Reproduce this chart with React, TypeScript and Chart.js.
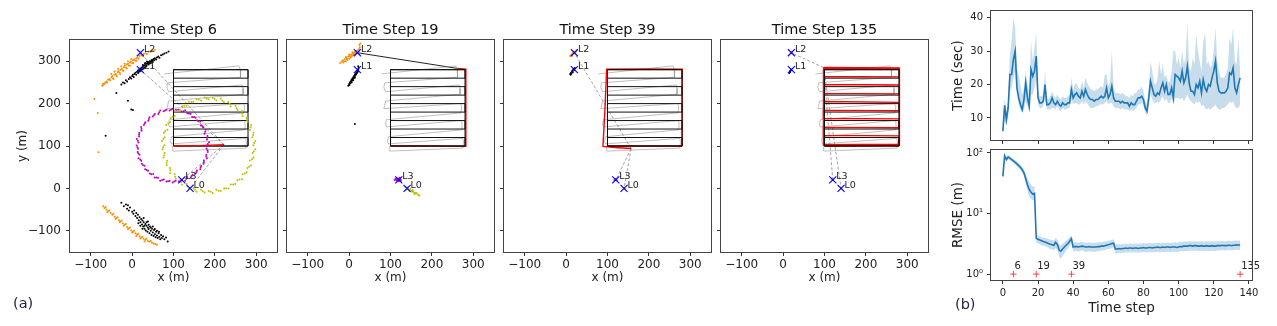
import React, { useEffect, useRef } from "react";
import { Chart, registerables } from "chart.js";

Chart.register(...registerables);

const FONT = "'DejaVu Sans', 'Liberation Sans', sans-serif";

// ---------------- (a) map panels ----------------
const PANEL_TITLES = ["Time Step 6", "Time Step 19", "Time Step 39", "Time Step 135"];
const MAP_TICKS = [-100, 0, 100, 200, 300];
const LANDMARK_NAMES = ["L0", "L1", "L2", "L3"];
const LANDMARK_X = [140, 20, 20, 120];
const LANDMARK_Y = [0, 280, 320, 20];

const TRUE_PATH = [[100,100],[280,100],[280,280],[100,280],[100,100],[280,100],[280,120],[100,120],[100,140],[280,140],[280,160],[100,160],[100,180],[280,180],[280,200],[100,200],[100,220],[280,220],[280,240],[100,240],[100,260],[280,260],[280,280],[100,280]];

const GRAY_PATH = [[78,270],[258,289],[261,281],[262,262],[86,249],[84,238],[88,228],[266,244],[268,236],[268,222],[88,206],[86,196],[84,188],[270,200],[272,190],[270,178],[90,162],[88,152],[90,145],[272,160],[273,148],[272,138],[95,122],[93,112],[95,105],[275,118],[276,108],[275,95],[100,88],[98,88],[98,100]];

const RED_6 = [[100,100],[160,101],[222,103]];
const RED_19 = [[100,100],[190,100],[280,99],[282,190],[282,281],[262,283]];
const RED_39 = [[100,100],[190,100],[281,100],[281,190],[280,281],[190,282],[98,281],[94,190],[89,99],[125,96],[157,94]];
const RED_135 = [[100,100],[281,101],[281,281],[98,283],[97,100],[98,103],[279,104],[280,124],[98,125],[97,144],[279,143],[280,164],[97,165],[97,184],[280,183],[280,203],[98,205],[98,224],[280,223],[281,244],[99,245],[99,264],[281,263],[281,284],[98,285]];

const LINKS_6 = [1, 2, 3, 0];
const LINKS_19 = [2];
const LINKS_39 = [2, 3, 0];
const LINKS_135 = [2, 3, 0];

const ORANGE_6 = [[-72,243],[-70,247],[-67,246],[-65,250],[-62,252],[-60,249],[-58,256],[-55,258],[-53,255],[-50,262],[-48,265],[-46,260],[-43,268],[-40,270],[-38,267],[-35,274],[-33,277],[-30,273],[-28,280],[-25,283],[-23,279],[-20,286],[-18,289],[-15,285],[-13,292],[-10,294],[-8,290],[-5,297],[-3,299],[0,296],[2,302],[5,304],[8,301],[10,307],[13,309],[16,306],[18,312],[22,314],[26,312],[28,317],[32,319],[36,317],[40,322],[45,323],[50,325],[55,327],[-50,270],[-42,276],[-34,282],[-26,288],[-18,294],[-10,300],[-2,305],[-45,258],[-37,264],[-29,270],[-21,277],[-13,283],[-5,289],[3,296],[11,301],[-91,211],[-83,178],[-81,85],[-71,242],
[-70,-42],[-67,-46],[-64,-44],[-62,-50],[-58,-54],[-55,-52],[-52,-58],[-48,-62],[-45,-60],[-42,-67],[-38,-70],[-35,-68],[-32,-75],[-28,-78],[-25,-76],[-22,-83],[-18,-86],[-15,-84],[-12,-91],[-8,-94],[-5,-92],[-2,-99],[2,-102],[5,-100],[8,-106],[12,-109],[15,-107],[18,-113],[22,-116],[25,-114],[28,-119],[32,-121],[35,-119],[38,-124],[42,-126],[45,-124],[48,-128],[52,-130],[56,-131],[60,-133],[-40,-72],[-20,-88],[0,-104],[20,-118],[-60,-56],[-30,-80],[-10,-96],[10,-112],[30,-125]];

const BLACK_6 = [[-26,245],[-22,250],[-18,248],[-15,255],[-12,252],[-8,258],[-5,262],[-2,259],[0,265],[2,268],[4,263],[6,270],[8,273],[10,268],[12,275],[14,278],[15,272],[17,280],[19,282],[20,277],[22,284],[24,286],[25,281],[27,288],[29,290],[30,285],[32,292],[34,294],[35,289],[37,296],[39,297],[40,292],[42,299],[44,300],[45,295],[47,302],[49,303],[50,298],[52,305],[55,307],[58,304],[60,309],[63,311],[66,308],[70,314],[74,316],[78,318],[83,320],[88,323],[28,283],[33,287],[38,294],[43,296],[18,276],[23,280],[48,300],[53,302],[26,291],[31,295],[36,299],[-38,225],[-10,207],[-2,186],[2,185],[-64,124],
[-26,-34],[-20,-42],[-15,-38],[-12,-48],[-8,-52],[-5,-45],[0,-55],[3,-60],[5,-52],[8,-65],[10,-58],[12,-70],[14,-62],[16,-75],[18,-68],[20,-80],[22,-72],[24,-85],[25,-76],[27,-90],[28,-80],[30,-95],[32,-84],[33,-99],[35,-88],[37,-102],[38,-92],[40,-96],[42,-106],[43,-90],[45,-100],[47,-110],[48,-95],[50,-104],[52,-112],[53,-98],[55,-108],[57,-115],[58,-102],[60,-111],[62,-117],[64,-106],[66,-114],[68,-120],[70,-110],[72,-117],[75,-113],[78,-120],[82,-116],[86,-125],[20,-88],[25,-95],[30,-88],[35,-80],[40,-86],[45,-92],[50,-90],[55,-96],[60,-100],[15,-82],[65,-102],[28,-70],[38,-78],[-10,-40]];

const MAGENTA_6 = [[181,101],[185.7,108.7],[180.7,115.6],[182,123.5],[175.1,129],[177.7,138.2],[171.6,143.5],[166,148.6],[165.4,157.6],[157.4,160.4],[153.3,166.9],[145.1,168.2],[141.5,176.3],[133.5,177.1],[128.1,183.7],[119.5,181.2],[112.9,185.7],[105.3,184.7],[98,188],[90.8,183.7],[83.1,185.7],[76.2,182.1],[67.9,183.7],[63.3,175.3],[55,175.5],[49.8,169.8],[42.1,167.6],[39.3,159.7],[32.1,156.3],[28.4,149.8],[21.8,145],[22.8,136.1],[17.2,130.4],[16.9,122.7],[11.3,116.3],[15.3,108.2],[11,101],[14.3,93.7],[13.3,86.1],[17.8,79.5],[15.3,70.9],[21.9,65.5],[23.5,58],[30,53.4],[31.4,45.1],[38.6,41.6],[42.7,35.1],[51,33.8],[54.5,25.7],[62.5,24.9],[67.9,18.3],[76.5,20.8],[83.1,16.3],[90.7,17.3],[98,14],[105.2,18.3],[112.9,16.3],[119.7,19.9],[128.1,18.3],[132.7,26.7],[141.5,25.7],[146.2,32.2],[153.3,35.1],[156.7,42.3],[164.6,45.1],[166.8,52.8],[172.5,58],[173.2,65.9],[180.7,70.9],[179.1,79.3],[182.7,86.1],[179.7,93.9],
[182.9,104.7],[181,119.4],[176.5,133.6],[169.7,146.6],[160.6,158.5],[149.8,168.4],[137.3,176.4],[123.6,182.1],[109.1,185.2],[94.3,185.9],[79.6,184],[65.4,179.5],[52.4,172.7],[40.5,163.6],[30.6,152.8],[22.6,140.3],[16.9,126.6],[13.8,112.1],[13.1,97.3],[15,82.6],[19.5,68.4],[26.3,55.4],[35.4,43.5],[46.2,33.6],[58.7,25.6],[72.4,19.9],[86.9,16.8],[101.7,16.1],[116.4,18],[130.6,22.5],[143.6,29.3],[155.5,38.4],[165.4,49.2],[173.4,61.7],[179.1,75.4],[182.2,89.9]];

const YELLOW_6 = [[293,102],[297.5,111.8],[290.4,120.6],[293.2,131],[284.6,138.3],[287.4,149.8],[279.4,156.5],[276.7,166.3],[267,170.8],[265.6,182.6],[254.4,184.7],[249.9,194.5],[238,193.8],[232.4,203.5],[221.9,203.5],[214.5,212.1],[203.6,207.4],[194.7,213.6],[185,210],[175.2,214.5],[166.4,207.4],[156,210.2],[147.7,204.5],[137.2,204.4],[131.5,194.7],[120.7,193.7],[115.6,184.7],[104.4,182.6],[103,170.8],[93.3,166.3],[91.5,156],[82.6,149.8],[85.4,138.3],[76.8,131],[78.6,120.8],[72.4,111.8],[78,102],[73.4,92.3],[78.6,83.2],[75.8,72.8],[84.4,65.4],[83.5,54.7],[91.5,48],[91.6,36.6],[103,33.2],[105.8,22.8],[115.6,19.3],[120.2,9.4],[132,10.2],[137.7,0.5],[148.1,0.5],[155.5,-8.1],[166.4,-3.4],[175.2,-9.6],[185,-6],[194.8,-10.6],[203.6,-3.4],[214,-6.2],[222.3,-0.4],[232.8,-0.4],[238.5,9.3],[249.2,10.3],[254.4,19.3],[265.6,21.4],[267,33.2],[276.7,37.8],[278.5,48],[287.4,54.2],[284.6,65.7],[293.2,73],[291.4,83.2],[297.6,92.2],
[294.9,106.8],[292.4,125.8],[286.6,144.1],[277.7,161.1],[266.1,176.4],[252,189.2],[235.8,199.6],[218.1,206.9],[199.4,211],[180.2,211.9],[161.2,209.4],[142.9,203.6],[125.9,194.7],[110.6,183.1],[97.8,169],[87.4,152.8],[80.1,135.1],[76,116.4],[75.1,97.2],[77.6,78.2],[83.4,59.9],[92.3,42.9],[103.9,27.6],[118,14.8],[134.2,4.4],[151.9,-2.9],[170.6,-7],[189.8,-7.9],[208.8,-5.4],[227.1,0.4],[244.1,9.3],[259.4,20.9],[272.2,35],[282.6,51.2],[289.9,68.9],[294,87.6]];

const ORANGE_19 = [[-22,296],[-18,299],[-15,302],[-14,297],[-10,305],[-8,300],[-6,308],[-4,303],[-2,311],[0,306],[2,313],[4,309],[5,316],[7,312],[9,318],[10,314],[12,320],[13,316],[15,322],[16,318],[18,324],[20,320],[21,326],[23,322],[24,329],[26,333],[25,338],[27,342],[-12,300],[-5,305],[3,311],[11,317],[17,321],[8,321],[0,316],[-8,310]];
const BLACK_19 = [[-2,242],[0,246],[2,250],[1,244],[4,253],[3,248],[6,256],[5,251],[8,259],[7,254],[10,262],[9,257],[12,265],[11,260],[14,268],[13,263],[16,271],[15,266],[18,274],[17,269],[20,277],[19,272],[22,280],[21,275],[23,284],[22,288],[6,250],[10,255],[14,261],[14,152]];
const MAGENTA_19 = [[112,22],[115,24],[117,20],[119,23],[121,18],[123,21],[118,17],[114,19],[122,25],[125,20],[116,22],[120,21],[110,20],[124,17]];
const YELLOW_19 = [[134,5],[137,3],[140,0],[143,-2],[146,-4],[148,-1],[150,-6],[152,-8],[155,-7],[157,-10],[160,-12],[162,-10],[165,-14],[168,-16],[170,-17],[145,-5],[153,-4],[158,-13],[138,-3],[142,2]];

const ORANGE_39 = [[10,312],[12,314],[14,316],[16,318],[18,319],[20,320],[22,322],[24,323],[26,325],[15,313],[21,318],[17,322]];
const BLACK_39 = [[10,270],[12,273],[14,275],[15,277],[17,279],[18,281],[20,282],[13,271],[16,274],[19,279],[11,268],[21,284]];
const MAGENTA_39 = [[117,19],[119,21],[121,20],[120,22],[122,19]];
const YELLOW_39 = [[139,1],[141,-1],[143,-2],[140,0]];

const ORANGE_135 = [[18,319],[20,321],[22,322],[19,322]];
const BLACK_135 = [[15,272],[17,276],[18,278],[16,274],[20,280]];
const MAGENTA_135 = [[119,20],[121,21]];
const YELLOW_135 = [[140,0],[141,-1]];

// ---------------- (b) time / RMSE ----------------
const STEP_TICKS = [0, 20, 40, 60, 80, 100, 120, 140];
const TIME_TICKS = [10, 20, 30, 40];
const RMSE_TICKS = [1, 10, 100];
const MARK_STEPS = [6, 19, 39, 135];

const TIME_MEAN = [6,13.8,9.5,13,23,23,27.5,30,19,16,14,12.5,15.5,20.5,16,13.5,24.5,22.5,24,28.5,16,14.5,14.5,15,20,14,14,14.5,16,14.5,14,15,14,13.5,14.5,14,14,14.5,14.5,18.5,16,17,17.5,16.5,16,18,16.5,18.5,17,16,15.5,15.5,15,15.5,15.5,16,16.5,16,16.5,19,16,17,19.5,16,15,15,15,14.5,15,14.5,14.5,14.5,13.5,14.5,14,14,15,16,16,16.5,15.5,13,12,16,21,19,17,16.5,17.5,17,19,20.5,18,20,17,17,19,16,23,22.5,22,21,24,20.5,22,25.5,20.5,18,18,17,20,19,21,17.5,21.5,19,18,20,19.5,22,24,27,20.5,18,17.5,17.5,17.5,18,19,23.5,23,25,19,17.5,20,22];
const TIME_LO = [5.5,9,8,10,18,19,22,24,17,14,12.5,11.5,12.5,15,13.5,12,17,17,19,22,14,13,13,13.5,16,12.5,12.5,12.5,13,13,12.5,13.5,12.5,12,13,12.5,12.5,13,13,15.5,14,14.5,14.5,14,14,15,14,15,14.5,13.5,13,13,13,13.5,13.5,14,14,14,14.5,15,14,14.5,14.5,13.5,13,13,13,12.5,13,12.5,12.5,12.5,12,12.5,12,12.5,13,14,14,14.5,13.5,11.5,10.5,13.5,17,15.5,14.5,14.5,15,14.5,15.5,16.5,15,16,14.5,14.5,16,14,16,16,16,15.5,16,15,16,17,15.5,15,14.5,14,15,14.5,15,13.5,14,13,12.5,13,12.5,13,13.5,14,13,12.5,12.5,13,13,13.5,14,15,14.5,15,13.5,13,13,14];
const TIME_HI = [7.5,16,12,15,29,33,40,37,25,23,20,17,19,24,20,17,33,27,31,35.5,18,16.5,16.5,17,24,16,15.5,16.5,18,16.5,16,17,16,15.5,16.5,16,16,16.5,17,22,18.5,20,20.5,19,18.5,21,19,22,20.5,19.5,18.5,18.5,18,18.5,18.5,19,19.5,19,23,23,19.5,21,30,19,17.5,17.5,17.5,17,17.5,17,16.5,16.5,16,17,16.5,17.5,17.5,18.5,18.5,19.5,18,15,14,19,27,24,20.5,20,22,27,23,26,22,23,20.5,21,24,30,30,26,28,25,30,26,28,38.5,25,24,28,26,35,30,27,24,33,35.5,26,27,25,26,30,37,27,24,22,22,22,23,25,34,32,37,27,26,33.5,24];

const RMSE_MEAN = [41,90,78,86,82,78,74,70,66,62,58,53,47,38,30,25,22.5,21,21.5,3.9,3.75,3.65,3.55,3.45,3.4,3.3,3.2,3.1,3.05,3.0,3.35,3.1,2.5,2.4,2.6,2.8,3.0,3.2,3.5,3.85,2.8,2.85,2.85,2.8,2.85,2.9,2.85,2.8,2.8,2.85,2.8,2.8,2.8,2.8,2.85,2.85,2.9,2.9,2.95,3.0,3.05,3.1,3.2,3.25,2.6,2.6,2.65,2.6,2.65,2.65,2.7,2.65,2.7,2.7,2.65,2.7,2.7,2.65,2.7,2.7,2.75,2.7,2.7,2.75,2.75,2.7,2.75,2.75,2.8,2.75,2.75,2.8,2.75,2.8,2.8,2.75,2.8,2.8,2.8,2.75,2.8,2.85,2.85,2.9,2.9,2.9,2.95,2.95,2.9,2.95,2.95,2.9,2.9,2.95,2.9,2.9,2.95,2.9,2.9,2.95,2.9,2.9,2.95,2.95,2.95,3.0,2.95,2.95,3.0,3.0,2.95,3.0,3.0,3.05,3.0,3.05];
const RMSE_HI = [44,97,84,92,88,84,80,76,72,68,64,59,53,45,38,33,30,28,28,4.4,4.3,4.2,4.1,4.0,3.95,3.9,3.8,3.7,3.65,3.6,3.95,3.7,3.1,3.0,3.2,3.4,3.6,3.8,4.1,4.4,3.3,3.35,3.35,3.3,3.35,3.4,3.35,3.3,3.3,3.35,3.3,3.3,3.3,3.3,3.35,3.35,3.4,3.4,3.45,3.5,3.55,3.6,3.7,3.75,3.1,3.1,3.15,3.1,3.15,3.15,3.2,3.15,3.2,3.2,3.15,3.2,3.2,3.15,3.2,3.2,3.25,3.2,3.2,3.25,3.25,3.2,3.25,3.25,3.3,3.25,3.25,3.3,3.25,3.3,3.3,3.25,3.3,3.3,3.35,3.3,3.35,3.4,3.4,3.45,3.45,3.45,3.5,3.5,3.45,3.5,3.5,3.45,3.45,3.5,3.45,3.45,3.5,3.45,3.45,3.5,3.45,3.45,3.5,3.5,3.5,3.55,3.5,3.5,3.55,3.55,3.5,3.55,3.55,3.6,3.55,3.6];
const RMSE_LO = [38,82,72,79,75,72,68,64,60,56,52,47,41,31,24,19,17.5,16.5,17,3.3,3.2,3.1,3.0,2.95,2.9,2.8,2.7,2.6,2.55,2.5,2.7,2.5,1.95,1.8,2.0,2.2,2.45,2.65,2.9,3.2,2.35,2.4,2.4,2.35,2.4,2.45,2.4,2.35,2.35,2.4,2.35,2.35,2.35,2.35,2.4,2.4,2.45,2.45,2.5,2.55,2.6,2.6,2.7,2.75,2.2,2.2,2.25,2.2,2.25,2.25,2.3,2.25,2.3,2.3,2.25,2.3,2.3,2.25,2.3,2.3,2.3,2.3,2.3,2.3,2.3,2.3,2.3,2.3,2.35,2.3,2.3,2.35,2.3,2.35,2.35,2.3,2.35,2.35,2.35,2.3,2.35,2.4,2.4,2.4,2.4,2.4,2.45,2.45,2.4,2.45,2.45,2.4,2.4,2.45,2.4,2.4,2.45,2.4,2.4,2.45,2.4,2.4,2.45,2.45,2.45,2.5,2.45,2.45,2.5,2.5,2.45,2.5,2.5,2.55,2.5,2.5];

// ---------------- styling ----------------
const ORANGE = "#ff8c00";
const MAGENTA = "#c000c0";
const YELLOW = "#bfbf00";
const BLUE = "#1f77b4";
const PANEL_LEFTS = [70, 287, 504, 721];

const REDS = [RED_6, RED_19, RED_39, RED_135];
const LINKS = [LINKS_6, LINKS_19, LINKS_39, LINKS_135];
const CLOUDS = [
  [ORANGE_6, BLACK_6, MAGENTA_6, YELLOW_6],
  [ORANGE_19, BLACK_19, MAGENTA_19, YELLOW_19],
  [ORANGE_39, BLACK_39, MAGENTA_39, YELLOW_39],
  [ORANGE_135, BLACK_135, MAGENTA_135, YELLOW_135],
];
const CLOUD_COLORS = [ORANGE, "#000000", MAGENTA, YELLOW];

const GRID = { display: true, drawOnChartArea: false, drawTicks: true, tickLength: 4, tickColor: "#333", tickWidth: 1, color: "#333" };

const boxPlugin = {
  id: "boxFrame",
  afterDraw(chart: any) {
    const { ctx, chartArea: a } = chart;
    ctx.save();
    ctx.strokeStyle = "#444";
    ctx.lineWidth = 1;
    ctx.strokeRect(Math.round(a.left) - 0.5, Math.round(a.top) - 0.5, Math.round(a.right - a.left) + 1, Math.round(a.bottom - a.top) + 1);
    ctx.restore();
  },
};

function makeTextPlugin(items: any[]) {
  return {
    id: "textMarks",
    afterDatasetsDraw(chart: any) {
      const { ctx, scales } = chart;
      ctx.save();
      for (const it of items) {
        const px = scales.x.getPixelForValue(it.x) + it.dx;
        const py = scales.y.getPixelForValue(it.y) + it.dy;
        ctx.font = `${it.size}px ${FONT}`;
        ctx.fillStyle = "#222";
        ctx.textAlign = "left";
        ctx.textBaseline = "middle";
        ctx.fillText(it.text, px, py);
      }
      ctx.restore();
    },
  };
}

const fmtMap = (v: any) => (v < 0 ? "\u2212" + Math.abs(v) : String(v));
const xy = (arr: number[][]) => arr.map((q) => ({ x: q[0], y: q[1] }));

function mapConfig(p: number): any {
  const red = REDS[p];
  const robot = red[red.length - 1];
  const datasets: any[] = [];
  datasets.push({
    data: LANDMARK_X.map((x, i) => ({ x, y: LANDMARK_Y[i] })),
    showLine: false, pointStyle: "crossRot", pointRadius: 5,
    pointBorderColor: "#0000ff", pointBorderWidth: 1.1, pointBackgroundColor: "rgba(0,0,0,0)", order: 0,
  });
  CLOUDS[p].forEach((c, i) => {
    datasets.push({
      data: xy(c), showLine: false, pointStyle: "circle", pointRadius: 1.0,
      pointBackgroundColor: CLOUD_COLORS[i], pointBorderWidth: 0, order: 4 - i,
    });
  });
  const redOnTop = p === 0;
  datasets.push({ data: xy(red), showLine: true, borderColor: "#ff0000", borderWidth: 1.4, pointRadius: 0, order: redOnTop ? 5 : 6 });
  datasets.push({ data: xy(TRUE_PATH), showLine: true, borderColor: "#111", borderWidth: 1, pointRadius: 0, order: redOnTop ? 6 : 5 });
  datasets.push({ data: xy(GRAY_PATH), showLine: true, borderColor: "rgba(140,140,140,0.55)", borderWidth: 1, pointRadius: 0, order: 7 });
  LINKS[p].forEach((li) => {
    datasets.push({
      data: [{ x: robot[0], y: robot[1] }, { x: LANDMARK_X[li], y: LANDMARK_Y[li] }],
      showLine: true, pointRadius: 0,
      borderColor: p === 1 ? "#222" : "#8a8a8a", borderWidth: p === 1 ? 1 : 0.8,
      borderDash: p === 1 ? [] : [3, 2], order: 8,
    });
  });
  const labels = LANDMARK_NAMES.map((n, i) => ({ text: n, x: LANDMARK_X[i], y: LANDMARK_Y[i], dx: 3.5, dy: -3, size: 9.5 }));
  return {
    type: "scatter",
    data: { datasets },
    plugins: [boxPlugin, makeTextPlugin(labels)],
    options: {
      responsive: false, animation: false, devicePixelRatio: 1, events: [],
      layout: { padding: { left: 10, right: 12, top: 0, bottom: 34 } },
      plugins: {
        legend: { display: false }, tooltip: { enabled: false },
        title: { display: true, text: PANEL_TITLES[p], fullSize: false, color: "#111", font: { size: 14.5, weight: "normal", family: FONT }, padding: { top: 22, bottom: 0.6 } },
      },
      scales: {
        x: {
          type: "linear", min: -150, max: 350,
          afterBuildTicks: (s: any) => { s.ticks = MAP_TICKS.map((v) => ({ value: v })); },
          afterFit: (s: any) => { s.height = 40; },
          ticks: { callback: fmtMap, autoSkip: false, maxRotation: 0, padding: 1.5, color: "#222", font: { size: 12, family: FONT } },
          grid: GRID, border: { display: false },
          title: { display: true, text: "x (m)", color: "#222", font: { size: 12, family: FONT }, padding: { top: 0, bottom: 6.8 } },
        },
        y: {
          type: "linear", min: -150, max: 350,
          afterBuildTicks: (s: any) => { s.ticks = MAP_TICKS.map((v) => ({ value: v })); },
          afterFit: (s: any) => { s.width = 60; },
          ticks: { callback: p === 0 ? fmtMap : () => "", autoSkip: false, padding: 5, color: "#222", font: { size: 12, family: FONT } },
          grid: GRID, border: { display: false },
          title: { display: p === 0, text: "y (m)", color: "#222", font: { size: 12, family: FONT }, padding: { top: 5.8, bottom: 0 } },
        },
      },
    },
  };
}

function seriesConfig(kind: "time" | "rmse"): any {
  const isTime = kind === "time";
  const mean = isTime ? TIME_MEAN : RMSE_MEAN;
  const lo = isTime ? TIME_LO : RMSE_LO;
  const hi = isTime ? TIME_HI : RMSE_HI;
  const pts = (arr: number[]) => arr.map((v, i) => ({ x: i, y: v }));
  const datasets: any[] = [
    { data: pts(lo), borderWidth: 0, pointRadius: 0, fill: false, order: 2 },
    { data: pts(hi), borderWidth: 0, pointRadius: 0, fill: "-1", backgroundColor: "rgba(31,119,180,0.25)", order: 2 },
    { data: pts(mean), borderColor: BLUE, borderWidth: 1.6, pointRadius: 0, fill: false, order: 1 },
  ];
  const plugins: any[] = [boxPlugin];
  if (!isTime) {
    datasets.push({
      data: MARK_STEPS.map((s) => ({ x: s, y: 1 })), showLine: false, pointStyle: "cross", pointRadius: 3.2,
      pointBorderColor: "rgba(255,40,40,0.85)", pointBorderWidth: 1, order: 0,
    });
    plugins.push(makeTextPlugin(MARK_STEPS.map((s) => ({ text: String(s), x: s, y: 1, dx: 1, dy: -7.5, size: 10 }))));
  }
  const supers: any = { 1: "10\u2070", 10: "10\u00b9", 100: "10\u00b2" };
  return {
    type: "line",
    data: { datasets },
    plugins,
    options: {
      responsive: false, animation: false, devicePixelRatio: 1, events: [],
      layout: { padding: isTime ? { left: 6, right: 25, top: 11, bottom: 0 } : { left: 6, right: 25, top: 9.3, bottom: 6 } },
      plugins: { legend: { display: false }, tooltip: { enabled: false }, title: { display: false } },
      scales: {
        x: {
          type: "linear", min: -6.75, max: 141.75,
          afterBuildTicks: (s: any) => { s.ticks = STEP_TICKS.map((v) => ({ value: v })); },
          afterFit: (s: any) => { s.height = isTime ? 8 : 40; },
          ticks: { callback: isTime ? () => "" : (v: any) => String(v), autoSkip: false, maxRotation: 0, padding: 3, color: "#222", font: { size: 10, family: FONT } },
          grid: GRID, border: { display: false },
          title: { display: !isTime, text: "Time step", color: "#222", font: { size: 13.5, family: FONT }, padding: { top: 0, bottom: 3.6 } },
        },
        y: isTime
          ? {
              type: "linear", min: 3.4, max: 42,
              afterBuildTicks: (s: any) => { s.ticks = TIME_TICKS.map((v) => ({ value: v })); },
              afterFit: (s: any) => { s.width = 55; },
              ticks: { autoSkip: false, padding: 4, color: "#222", font: { size: 10, family: FONT } },
              grid: GRID, border: { display: false },
              title: { display: true, text: "Time (sec)", color: "#222", font: { size: 13.5, family: FONT }, padding: { top: 13.9, bottom: 0 } },
            }
          : {
              type: "logarithmic", min: 0.8, max: 112,
              afterBuildTicks: (s: any) => { s.ticks = RMSE_TICKS.map((v) => ({ value: v })); },
              afterFit: (s: any) => { s.width = 55; },
              ticks: { callback: (v: any) => supers[v] ?? "", autoSkip: false, padding: 4, color: "#222", font: { size: 10, family: FONT } },
              grid: GRID, border: { display: false },
              title: { display: true, text: "RMSE (m)", color: "#222", font: { size: 13.5, family: FONT }, padding: { top: 13.9, bottom: 0 } },
            },
      },
    },
  };
}

function ChartCanvas(props: { left: number; top: number; width: number; height: number; make: () => any }) {
  const ref = useRef<HTMLCanvasElement>(null);
  useEffect(() => {
    const chart = new Chart(ref.current as HTMLCanvasElement, props.make());
    return () => chart.destroy();
  }, []);
  return (
    <canvas
      ref={ref}
      width={props.width}
      height={props.height}
      style={{ position: "absolute", left: props.left, top: props.top, width: props.width, height: props.height }}
    />
  );
}

export default function App() {
  return (
    <div style={{ position: "absolute", left: 0, top: 0, width: 1277, height: 326, background: "#fff", overflow: "hidden", fontFamily: FONT }}>
      {PANEL_LEFTS.map((l, p) => (
        <ChartCanvas key={p} left={l - 70} top={0} width={289} height={326} make={() => mapConfig(p)} />
      ))}
      <ChartCanvas left={930} top={0} width={347} height={150} make={() => seriesConfig("time")} />
      <ChartCanvas left={930} top={140} width={347} height={186} make={() => seriesConfig("rmse")} />
      <div style={{ position: "absolute", left: 13, top: 295, fontSize: 14.5, lineHeight: "16px", color: "#222244" }}>(a)</div>
      <div style={{ position: "absolute", left: 955, top: 296, fontSize: 14.5, lineHeight: "16px", color: "#222244" }}>(b)</div>
    </div>
  );
}
